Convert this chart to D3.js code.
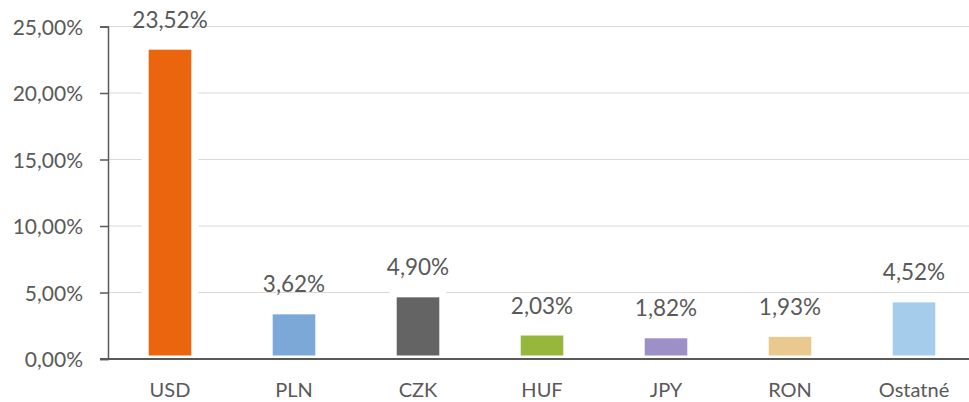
<!DOCTYPE html>
<html>
<head>
<meta charset="utf-8">
<script src="https://cdn.jsdelivr.net/npm/d3@7"></script>
<style>
    body { margin: 0; background: #fff; }
    text { font-family: Lato, "Open Sans", sans-serif; fill: #595959; }
</style>
</head>
<body>
<div id="chart"></div>
<script>
// chart data
const categories = ["USD", "PLN", "CZK", "HUF", "JPY", "RON", "Ostatné"];
const shares = [23.52, 3.62, 4.90, 2.03, 1.82, 1.93, 4.52];
const barColors = ["#EA650E", "#7BA8D6", "#646464", "#97B63C", "#9C90C6", "#EAC98E", "#A5CCEB"];
const yTicks = [0, 5, 10, 15, 20, 25];

const fmt = v => d3.format(".2f")(v).replace(".", ",") + "%";

let width = 969, height = 402;
let margin = {top: 26.5, right: -7, bottom: 43, left: 108};
let innerW = width - margin.left - margin.right;
let innerH = height - margin.top - margin.bottom;

let svg = d3.select("#chart").append("svg")
    .attr("width", width)
    .attr("height", height);

let g = svg.append("g")
    .attr("transform", "translate(" + margin.left + "," + margin.top + ")");

let x = d3.scaleBand()
    .domain(categories)
    .range([0, innerW])
    .paddingInner(0.6)
    .paddingOuter(0.3);

let y = d3.scaleLinear()
    .domain([0, 25])
    .range([innerH, 0]);

// gridlines
g.selectAll(".grid")
    .data(yTicks.filter(d => d > 0))
    .enter()
    .append("line")
    .attr("class", "grid")
    .attr("x1", 0)
    .attr("x2", innerW)
    .attr("y1", d => y(d))
    .attr("y2", d => y(d))
    .attr("stroke", "#D9D9D9")
    .attr("stroke-width", 1);

// bars (white border hides gridline around the bar)
g.selectAll(".bar")
    .data(shares)
    .enter()
    .append("rect")
    .attr("class", "bar")
    .attr("x", (d, i) => x(categories[i]))
    .attr("y", d => y(d))
    .attr("width", x.bandwidth())
    .attr("height", d => innerH - y(d))
    .attr("fill", (d, i) => barColors[i])
    .attr("stroke", "#fff")
    .attr("stroke-width", 7);

// data labels
g.selectAll(".label")
    .data(shares)
    .enter()
    .append("text")
    .attr("class", "label")
    .attr("x", (d, i) => x(categories[i]) + x.bandwidth() / 2)
    .attr("y", d => y(d) - 18.5)
    .attr("text-anchor", "middle")
    .style("font-size", "22.5px")
    .text(d => fmt(d));

// y axis
let yAxis = d3.axisLeft(y)
    .tickValues(yTicks)
    .tickSize(8)
    .tickPadding(17)
    .tickFormat(d => fmt(d));

let yAxisGroup = g.append("g").call(yAxis);
yAxisGroup.select(".domain").attr("stroke", "#595959").attr("stroke-width", 1.5);
yAxisGroup.selectAll(".tick line").attr("stroke", "#595959").attr("stroke-width", 1.5);
yAxisGroup.selectAll(".tick text")
    .style("font-size", "21px")
    .attr("dy", "0.36em");

// x axis
let xAxis = d3.axisBottom(x)
    .tickSize(0)
    .tickPadding(24);

let xAxisGroup = g.append("g")
    .attr("transform", "translate(0," + innerH + ")")
    .call(xAxis);
xAxisGroup.select(".domain")
    .attr("d", "M-8,0H" + innerW)
    .attr("stroke", "#595959")
    .attr("stroke-width", 2);
xAxisGroup.selectAll(".tick text").style("font-size", "20px");
</script>
</body>
</html>
